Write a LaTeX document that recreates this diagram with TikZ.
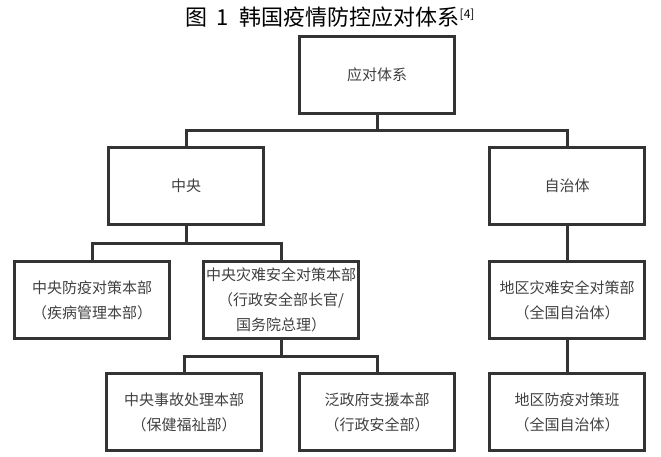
\documentclass[tikz,border=0pt]{standalone}
\usepackage{fontspec}
\newfontfamily\cjk{Noto Sans CJK SC}
\usepackage{xcolor}
\usepackage{tikz}
\usetikzlibrary{positioning}
\definecolor{boxline}{HTML}{333333}
\definecolor{boxtext}{HTML}{404040}
\tikzstyle{unit} = [rectangle, draw=boxline, line width=3pt, minimum width=155pt, minimum height=77pt, inner sep=0, align=center, text=boxtext, font=\cjk\fontsize{15}{25}\selectfont]
\tikzstyle{link} = [draw=boxline, line width=3pt]

\begin{document}
\begin{tikzpicture}[x=1pt, y=-1pt]
\useasboundingbox (0,0) rectangle (661,456);
\node [draw=none, inner sep=0, font=\cjk\fontsize{22}{22}\selectfont, text=black] (T) at (330,17) {图\hspace{9pt}1\hspace{11pt}韩国疫情防控应对体系\raisebox{7pt}{\fontsize{12}{12}\selectfont[4]}};
% top levels
\node [unit] (R) at (377,75) {应对体系};
\node [unit] (C) at (186,186) {中央};
\node [unit] (Z) at (567,186) {自治体};
% central branch
\node [unit] (CF) at (92,300) {中央防疫对策本部\\（疾病管理本部）};
\node [unit] (CD) at (281,300) {中央灾难安全对策本部\\（行政安全部长官/\\国务院总理）};
\node [unit] (CS) at (184,412) {中央事故处理本部\\（保健福祉部）};
\node [unit] (CG) at (377,412) {泛政府支援本部\\（行政安全部）};
% local branch
\node [unit] (ZD) at (567,300) {地区灾难安全对策部\\（全国自治体）};
\node [unit] (ZF) at (567,412) {地区防疫对策班\\（全国自治体）};
\draw [link] (R.south) -- ++(0,15) -| (C.north);
\draw [link] (R.south) -- ++(0,15) -| (Z.north);
\draw [link] (C.south) -- ++(0,17) -| (CF.north);
\draw [link] (C.south) -- ++(0,17) -| (CD.north);
\draw [link] (CD.south) -- ++(0,16) -| (CS.north);
\draw [link] (CD.south) -- ++(0,16) -| (CG.north);
\draw [link] (Z) -- (ZD);
\draw [link] (ZD) -- (ZF);
\end{tikzpicture}
\end{document}
